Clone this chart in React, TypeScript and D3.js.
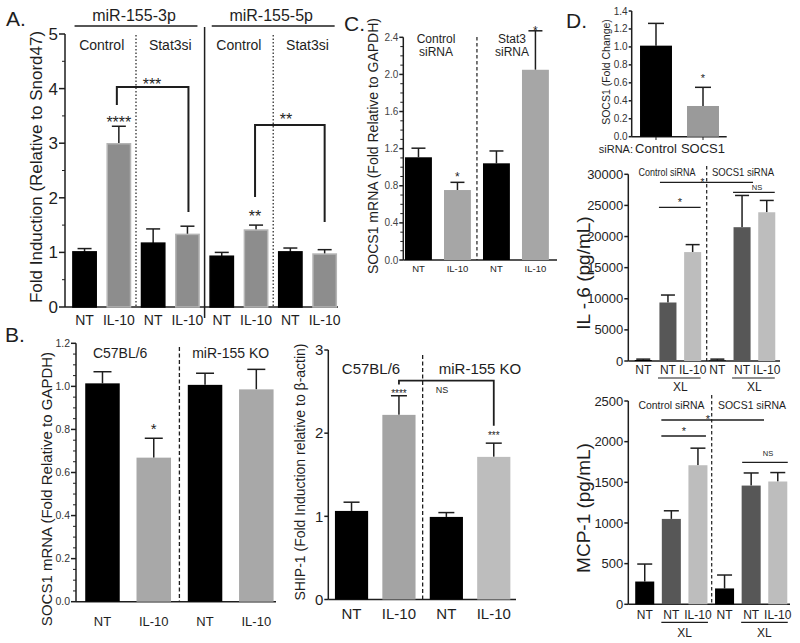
import React from "react";
import * as d3 from "d3";

// ---------- DATA ----------
// Panel A: miR-155-3p / miR-155-5p fold induction
const aCategories = ["NT", "IL-10", "NT", "IL-10", "NT", "IL-10", "NT", "IL-10"];
const aValues = [1.01, 2.99, 1.17, 1.33, 0.93, 1.41, 1.01, 0.97];
const aErrors = [1.07, 3.31, 1.43, 1.48, 1.0, 1.5, 1.08, 1.05];
const aTicks = [0, 1, 2, 3, 4, 5];
const aMirs = ["miR-155-3p", "miR-155-5p"];
const aGroups = ["Control", "Stat3si", "Control", "Stat3si"];

// Panel B left: SOCS1 mRNA
const bLeftCategories = ["NT", "IL-10", "NT", "IL-10"];
const bLeftValues = [1.014, 0.669, 1.007, 0.986];
const bLeftErrors = [1.068, 0.759, 1.061, 1.079];
const bLeftTicks = [0, 0.2, 0.4, 0.6, 0.8, 1.0, 1.2];
const bGroups = ["C57BL/6", "miR-155 KO"];

// Panel B right: SHIP-1
const bRightCategories = ["NT", "IL-10", "NT", "IL-10"];
const bRightValues = [1.065, 2.22, 0.993, 1.715];
const bRightErrors = [1.17, 2.45, 1.045, 1.88];
const bRightTicks = [0, 1, 2, 3];

// Panel C: SOCS1 mRNA with Stat3 siRNA
const cCategories = ["NT", "IL-10", "NT", "IL-10"];
const cValues = [1.107, 0.754, 1.042, 2.05];
const cErrors = [1.205, 0.837, 1.175, 2.47];
const cTicks = [0, 0.4, 0.8, 1.2, 1.6, 2.0, 2.4];
const cGroups = [["Control", "siRNA"], ["Stat3", "siRNA"]];

// Panel D top: SOCS1 fold change
const dTopCategories = ["Control", "SOCS1"];
const dTopValues = [1.014, 0.342];
const dTopErrors = [1.262, 0.55];
const dTopTicks = [0, 0.2, 0.4, 0.6, 0.8, 1.0, 1.2, 1.4];

// Panel D middle/bottom: IL-6 and MCP-1
const dCategories = ["NT", "NT", "IL-10", "NT", "NT", "IL-10"];
const dCrosslinked = [false, true, true, false, true, true];
const dGroups = ["Control siRNA", "SOCS1 siRNA"];
const il6Values = [160, 9400, 17500, 100, 21500, 23900];
const il6Errors = [300, 10600, 18700, 300, 26600, 25800];
const il6Ticks = [0, 5000, 10000, 15000, 20000, 25000, 30000];
const mcpValues = [280, 1050, 1710, 195, 1460, 1510];
const mcpErrors = [495, 1150, 1920, 360, 1615, 1620];
const mcpTicks = [0, 500, 1000, 1500, 2000, 2500];

// ---------- STYLE ----------
const FONT = "'Liberation Sans', Arial, Helvetica, sans-serif";
const INK = "#1e1e1e";

type Lin = d3.ScaleLinear<number, number>;

function YAxis({ y, x, ticks, minor = [], fmt, fs, len = 5, gapText = 2, color = INK }: any) {
  const y0 = y(0);
  const y1 = y(ticks[ticks.length - 1]);
  return (
    <g>
      <line x1={x} x2={x} y1={y0} y2={y1} stroke={INK} strokeWidth={1.5} />
      {minor.map((v: number) => (
        <line key={"m" + v} x1={x - 3} x2={x} y1={y(v)} y2={y(v)} stroke={INK} strokeWidth={1} />
      ))}
      {ticks.map((v: number) => (
        <g key={v}>
          <line x1={x - len} x2={x} y1={y(v)} y2={y(v)} stroke={INK} strokeWidth={1.5} />
          <text x={x - len - gapText} y={y(v)} dy="0.35em" textAnchor="end" fontSize={fs} fill={color}>
            {fmt(v)}
          </text>
        </g>
      ))}
    </g>
  );
}

function XAxisLine({ y, x1, x2 }: any) {
  return <line x1={x1} x2={x2} y1={y(0)} y2={y(0)} stroke={INK} strokeWidth={1.5} />;
}

function Bars({ cx, w, values, errs, fill, stroke, y, cap }: any) {
  return (
    <g>
      {values.map((v: number, i: number) => {
        const c = cx(i);
        const ye = y(errs[i]);
        return (
          <g key={i}>
            <line x1={c} x2={c} y1={y(v)} y2={ye} stroke={INK} strokeWidth={1.5} />
            <line x1={c - cap / 2} x2={c + cap / 2} y1={ye} y2={ye} stroke={INK} strokeWidth={1.5} />
            <rect
              x={c - w / 2}
              y={y(v)}
              width={w}
              height={y(0) - y(v)}
              fill={fill(i)}
              stroke={stroke ? stroke(i) : "none"}
              strokeWidth={stroke ? 1.5 : 0}
            />
          </g>
        );
      })}
    </g>
  );
}

function XLabels({ cx, labels, y, fs }: any) {
  return (
    <g>
      {labels.map((l: string, i: number) => (
        <text key={i} x={cx(i)} y={y} textAnchor="middle" fontSize={fs} fill={INK}>
          {l}
        </text>
      ))}
    </g>
  );
}

function YLabel({ x, y, text, fs }: any) {
  return (
    <text transform={`translate(${x},${y}) rotate(-90)`} textAnchor="middle" fontSize={fs} fill={INK}>
      {text}
    </text>
  );
}

function PanelA() {
  const y: Lin = d3.scaleLinear().domain([0, 5]).range([307, 34]);
  const xb = d3.scaleBand<number>().domain(d3.range(aValues.length)).range([65, 344.2]).paddingInner(0.32).paddingOuter(0.23);
  const cx = (i: number) => (xb(i) as number) + xb.bandwidth() / 2;
  const minor = d3.range(0.5, 5, 1);
  const mid = (a: number, b: number) => (cx(a) + cx(b)) / 2;
  return (
    <g>
      <text x={6} y={26} fontSize={21} fill={INK}>A.</text>
      <YLabel x={42} y={167} text="Fold Induction (Relative to Snord47)" fs={17} />
      <YAxis y={y} x={65} ticks={aTicks} minor={minor} fmt={(v: number) => String(v)} fs={17} len={6} gapText={1} />
      <XAxisLine y={y} x1={65} x2={338} />
      {/* separators */}
      <line x1={mid(1, 2)} x2={mid(1, 2)} y1={35} y2={307} stroke={INK} strokeWidth={1.2} strokeDasharray="1.5,2" />
      <line x1={mid(5, 6)} x2={mid(5, 6)} y1={35} y2={307} stroke={INK} strokeWidth={1.2} strokeDasharray="1.5,2" />
      <line x1={mid(3, 4)} x2={mid(3, 4)} y1={27} y2={318} stroke={INK} strokeWidth={1.5} />
      {/* headers */}
      {aMirs.map((m, k) => (
        <g key={m}>
          <text x={(cx(k * 4) + cx(k * 4 + 3)) / 2 - 2} y={21} textAnchor="middle" fontSize={16} fill={INK}>{m}</text>
          <line x1={cx(k * 4) - 10} x2={cx(k * 4 + 3) + 10} y1={26} y2={26} stroke={INK} strokeWidth={1.3} />
        </g>
      ))}
      {aGroups.map((g, k) => (
        <text key={k} x={mid(k * 2, k * 2 + 1)} y={50} textAnchor="middle" fontSize={14} fill={INK}>{g}</text>
      ))}
      <Bars
        cx={cx}
        w={xb.bandwidth()}
        values={aValues}
        errs={aErrors}
        y={y}
        cap={14}
        fill={(i: number) => (aCategories[i] === "NT" ? "#000" : "#8d8d8d")}
        stroke={(i: number) => (aCategories[i] === "NT" ? "#000" : "#b5b5b5")}
      />
      {/* significance */}
      <path d={`M${cx(1) - 2},105 V87 H${cx(3) + 1} V212`} fill="none" stroke={INK} strokeWidth={2} />
      <text x={152} y={90} textAnchor="middle" fontSize={16} fill={INK}>***</text>
      <text x={cx(1)} y={128} textAnchor="middle" fontSize={16} fill={INK}>****</text>
      <path d={`M${cx(5) - 1},197 V125 H${cx(7)} V222`} fill="none" stroke={INK} strokeWidth={2} />
      <text x={286} y={125} textAnchor="middle" fontSize={16} fill={INK}>**</text>
      <text x={cx(5) - 1} y={222} textAnchor="middle" fontSize={16} fill={INK}>**</text>
      <XLabels cx={cx} labels={aCategories} y={325} fs={14} />
    </g>
  );
}

function PanelBLeft() {
  const y: Lin = d3.scaleLinear().domain([0, 1.2]).range([601.7, 343.3]);
  const xb = d3.scaleBand<number>().domain(d3.range(bLeftValues.length)).range([76, 282.8]).paddingInner(0.327).paddingOuter(0.18);
  const cx = (i: number) => (xb(i) as number) + xb.bandwidth() / 2;
  const minor = d3.range(0.05, 1.2, 0.05).filter((v) => Math.abs(v / 0.2 - Math.round(v / 0.2)) > 0.01);
  const sep = (cx(1) + cx(2)) / 2;
  return (
    <g>
      <text x={5} y={342} fontSize={21} fill={INK}>B.</text>
      <YLabel x={52} y={489} text="SOCS1 mRNA (Fold Relative to GAPDH)" fs={15} />
      <YAxis y={y} x={76} ticks={bLeftTicks} minor={minor} fmt={d3.format(".1f")} fs={10.5} len={5} gapText={1} color="#333" />
      <XAxisLine y={y} x1={76} x2={276} />
      <line x1={sep} x2={sep} y1={347} y2={601.7} stroke={INK} strokeWidth={1.3} strokeDasharray="4,2.5" />
      <text x={(cx(0) + cx(1)) / 2 - 8} y={358} textAnchor="middle" fontSize={14} fill={INK}>{bGroups[0]}</text>
      <text x={(cx(2) + cx(3)) / 2} y={358} textAnchor="middle" fontSize={14} fill={INK}>{bGroups[1]}</text>
      <Bars
        cx={cx}
        w={xb.bandwidth()}
        values={bLeftValues}
        errs={bLeftErrors}
        y={y}
        cap={18}
        fill={(i: number) => (bLeftCategories[i] === "NT" ? "#000" : "#a8a8a8")}
      />
      <text x={cx(1)} y={434} textAnchor="middle" fontSize={15} fill={INK}>*</text>
      <XLabels cx={cx} labels={bLeftCategories} y={626} fs={13} />
    </g>
  );
}

function PanelBRight() {
  const y: Lin = d3.scaleLinear().domain([0, 3]).range([599.5, 350]);
  const xb = d3.scaleBand<number>().domain(d3.range(bRightValues.length)).range([328.3, 517]).paddingInner(0.3).paddingOuter(0.14);
  const cx = (i: number) => (xb(i) as number) + xb.bandwidth() / 2;
  const sep = (cx(1) + cx(2)) / 2;
  return (
    <g>
      <YLabel x={305} y={472} text="SHIP-1 (Fold Induction relative to  β-actin)" fs={14} />
      <YAxis y={y} x={328.3} ticks={bRightTicks} fmt={(v: number) => String(v)} fs={15} len={4} gapText={1} />
      <XAxisLine y={y} x1={328.3} x2={516} />
      <line x1={sep} x2={sep} y1={355} y2={599.5} stroke={INK} strokeWidth={1.3} strokeDasharray="4,2.5" />
      <text x={371} y={374} textAnchor="middle" fontSize={15} fill={INK}>{bGroups[0]}</text>
      <text x={480} y={374} textAnchor="middle" fontSize={15} fill={INK}>{bGroups[1]}</text>
      <Bars
        cx={cx}
        w={xb.bandwidth()}
        values={bRightValues}
        errs={bRightErrors}
        y={y}
        cap={16}
        fill={(i: number) => (bRightCategories[i] === "NT" ? "#000" : i < 2 ? "#a4a4a4" : "#bdbdbd")}
      />
      <path d={`M${cx(1)},384.5 V380.7 H${cx(3)} V425.7`} fill="none" stroke={INK} strokeWidth={1.8} />
      <text x={cx(1)} y={397} textAnchor="middle" fontSize={10} fill={INK}>****</text>
      <text x={cx(3)} y={439} textAnchor="middle" fontSize={10} fill={INK}>***</text>
      <text x={442} y={393} textAnchor="middle" fontSize={9} fill={INK}>NS</text>
      <XLabels cx={cx} labels={bRightCategories} y={619} fs={15} />
    </g>
  );
}

function PanelC() {
  const y: Lin = d3.scaleLinear().domain([0, 2.4]).range([260, 37.3]);
  const xb = d3.scaleBand<number>().domain(d3.range(cValues.length)).range([403.3, 550.6]).paddingInner(0.31).paddingOuter(0.044);
  const cx = (i: number) => (xb(i) as number) + xb.bandwidth() / 2;
  const minor = d3.range(0.1, 2.4, 0.1).filter((v) => Math.abs(v / 0.4 - Math.round(v / 0.4)) > 0.01);
  const sep = (cx(1) + cx(2)) / 2;
  return (
    <g>
      <text x={344} y={31} fontSize={21} fill={INK}>C.</text>
      <YLabel x={378} y={146} text="SOCS1 mRNA (Fold Relative to GAPDH)" fs={14} />
      <YAxis y={y} x={403.3} ticks={cTicks} minor={minor} fmt={d3.format(".1f")} fs={10} len={4} gapText={1} color="#444" />
      <XAxisLine y={y} x1={403.3} x2={557} />
      <line x1={sep} x2={sep} y1={37} y2={260} stroke={INK} strokeWidth={1.2} strokeDasharray="3.5,2.5" />
      {cGroups.map((g, k) => (
        <text key={k} x={k === 0 ? 436 : 512} y={43} textAnchor="middle" fontSize={12} fill={INK}>
          <tspan x={k === 0 ? 436 : 512}>{g[0]}</tspan>
          <tspan x={k === 0 ? 436 : 512} dy={13}>{g[1]}</tspan>
        </text>
      ))}
      <Bars
        cx={cx}
        w={xb.bandwidth()}
        values={cValues}
        errs={cErrors}
        y={y}
        cap={14}
        fill={(i: number) => (cCategories[i] === "NT" ? "#000" : "#a6a6a6")}
      />
      <text x={cx(1)} y={181} textAnchor="middle" fontSize={12} fill={INK}>*</text>
      <text x={cx(3)} y={35} textAnchor="middle" fontSize={12} fill={INK}>*</text>
      <XLabels cx={cx} labels={cCategories} y={272} fs={9.5} />
    </g>
  );
}

function PanelDTop() {
  const y: Lin = d3.scaleLinear().domain([0, 1.4]).range([136.7, 11]);
  const xb = d3.scaleBand<string>().domain(dTopCategories).range([631.7, 727.3]).paddingInner(0.32).paddingOuter(0.177);
  const cx = (i: number) => (xb(dTopCategories[i]) as number) + xb.bandwidth() / 2;
  return (
    <g>
      <text x={566} y={28} fontSize={21} fill={INK}>D.</text>
      <YLabel x={610} y={72} text="SOCS1 (Fold Change)" fs={10.5} />
      <YAxis y={y} x={631.7} ticks={dTopTicks} fmt={d3.format(".1f")} fs={10} len={3} gapText={1} color="#333" />
      <XAxisLine y={y} x1={631.7} x2={726.7} />
      {dTopCategories.map((_, i) => (
        <line key={i} x1={cx(i)} x2={cx(i)} y1={136.7} y2={140} stroke={INK} strokeWidth={1} />
      ))}
      <Bars
        cx={cx}
        w={xb.bandwidth()}
        values={dTopValues}
        errs={dTopErrors}
        y={y}
        cap={16}
        fill={(i: number) => (i === 0 ? "#000" : "#9a9a9a")}
      />
      <text x={cx(1)} y={82} textAnchor="middle" fontSize={11} fill={INK}>*</text>
      <text x={633} y={153} textAnchor="end" fontSize={11} fill={INK}>siRNA:</text>
      <XLabels cx={cx} labels={dTopCategories} y={153} fs={13} />
    </g>
  );
}

function dFill(i: number) {
  if (!dCrosslinked[i]) return "#000";
  return dCategories[i] === "NT" ? "#575757" : "#bdbdbd";
}

function GroupText({ x, y, w, text }: any) {
  return (
    <text x={x} y={y} textAnchor="middle" fontSize={11.5} fill={INK} textLength={w} lengthAdjust="spacingAndGlyphs">
      {text}
    </text>
  );
}

function PanelDMid() {
  const y: Lin = d3.scaleLinear().domain([0, 30000]).range([361, 174.3]);
  const xb = d3.scaleBand<number>().domain(d3.range(il6Values.length)).range([628.3, 781.7]).paddingInner(0.31).paddingOuter(0.26);
  const cx = (i: number) => (xb(i) as number) + xb.bandwidth() / 2;
  const sep = 706.7;
  return (
    <g>
      <YLabel x={590} y={273} text="IL - 6 (pg/mL)" fs={19} />
      <YAxis y={y} x={628.3} ticks={il6Ticks} fmt={(v: number) => String(v)} fs={13} len={4} gapText={1} />
      <XAxisLine y={y} x1={628.3} x2={780} />
      <line x1={sep} x2={sep} y1={166} y2={361} stroke={INK} strokeWidth={1.2} strokeDasharray="3.5,2.5" />
      <GroupText x={667} y={176} w={57} text={dGroups[0]} />
      <GroupText x={743} y={176} w={62} text={dGroups[1]} />
      <Bars cx={cx} w={xb.bandwidth()} values={il6Values} errs={il6Errors} y={y} cap={14} fill={dFill} />
      {/* significance */}
      <line x1={cx(1) - 8} x2={753} y1={182.3} y2={182.3} stroke={INK} strokeWidth={1.3} />
      <text x={702.5} y={185.5} textAnchor="middle" fontSize={10} fill={INK}>*</text>
      <line x1={cx(4) - 9} x2={cx(5) + 8} y1={192.3} y2={192.3} stroke={INK} strokeWidth={1.3} />
      <text x={757} y={190} textAnchor="middle" fontSize={7.5} fill={INK}>NS</text>
      <line x1={cx(1) - 9} x2={cx(2) + 8} y1={207.3} y2={207.3} stroke={INK} strokeWidth={1.3} />
      <text x={680} y={206} textAnchor="middle" fontSize={11} fill={INK}>*</text>
      <XLabels cx={cx} labels={dCategories} y={373.5} fs={12} />
      {[1, 4].map((i) => (
        <g key={i}>
          <line x1={cx(i) - 10} x2={cx(i + 1) + 8} y1={378} y2={378} stroke={INK} strokeWidth={1.2} />
          <text x={(cx(i) + cx(i + 1)) / 2} y={391} textAnchor="middle" fontSize={12} fill={INK}>XL</text>
        </g>
      ))}
    </g>
  );
}

function PanelDBottom() {
  const y: Lin = d3.scaleLinear().domain([0, 2500]).range([604.3, 401]);
  const xb = d3.scaleBand<number>().domain(d3.range(mcpValues.length)).range([628.3, 794.2]).paddingInner(0.285).paddingOuter(0.26);
  const cx = (i: number) => (xb(i) as number) + xb.bandwidth() / 2;
  const sep = 711.7;
  return (
    <g>
      <YLabel x={590} y={508} text="MCP-1 (pg/mL)" fs={19} />
      <YAxis y={y} x={628.3} ticks={mcpTicks} fmt={(v: number) => String(v)} fs={13} len={4} gapText={1} />
      <XAxisLine y={y} x1={628.3} x2={790} />
      <line x1={sep} x2={sep} y1={395} y2={604.3} stroke={INK} strokeWidth={1.2} strokeDasharray="3.5,2.5" />
      <GroupText x={671.5} y={409} w={66} text={dGroups[0]} />
      <GroupText x={752} y={409} w={68} text={dGroups[1]} />
      <Bars cx={cx} w={xb.bandwidth()} values={mcpValues} errs={mcpErrors} y={y} cap={15} fill={dFill} />
      <line x1={cx(1) - 10} x2={764} y1={420} y2={420} stroke={INK} strokeWidth={1.3} />
      <text x={708} y={423} textAnchor="middle" fontSize={11} fill={INK}>*</text>
      <line x1={cx(1) - 10} x2={cx(2) + 8} y1={436} y2={436} stroke={INK} strokeWidth={1.3} />
      <text x={684} y={435} textAnchor="middle" fontSize={11} fill={INK}>*</text>
      <line x1={cx(4) - 9} x2={cx(5) + 10} y1={462.3} y2={462.3} stroke={INK} strokeWidth={1.3} />
      <text x={768} y={456} textAnchor="middle" fontSize={7.5} fill={INK}>NS</text>
      <XLabels cx={cx} labels={dCategories} y={619} fs={12} />
      {[1, 4].map((i) => (
        <g key={i}>
          <line x1={cx(i) - 10} x2={cx(i + 1) + 10} y1={622.3} y2={622.3} stroke={INK} strokeWidth={1.2} />
          <text x={(cx(i) + cx(i + 1)) / 2} y={637} textAnchor="middle" fontSize={12} fill={INK}>XL</text>
        </g>
      ))}
    </g>
  );
}

export default function App() {
  return (
    <svg
      width={800}
      height={643}
      viewBox="0 0 800 643"
      style={{ position: "absolute", left: 0, top: 0, background: "#fff" }}
      fontFamily={FONT}
    >
      <rect x={0} y={0} width={800} height={643} fill="#fff" />
      <PanelA />
      <PanelBLeft />
      <PanelBRight />
      <PanelC />
      <PanelDTop />
      <PanelDMid />
      <PanelDBottom />
    </svg>
  );
}
